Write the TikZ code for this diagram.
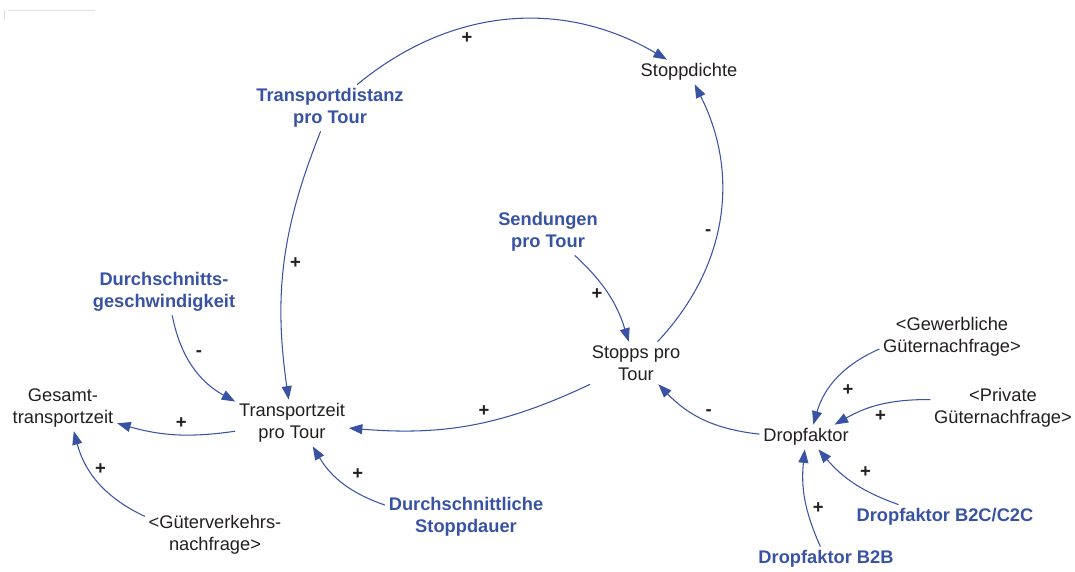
\documentclass[tikz,border=0pt]{standalone}
\usepackage{fontspec}
\setmainfont{Liberation Sans}
\usetikzlibrary{arrows.meta}
\definecolor{linkblue}{RGB}{57,83,164}
\definecolor{ink}{RGB}{35,31,32}

\begin{document}
\begin{tikzpicture}[font=\fontsize{10.4}{12.5}\selectfont,
			var/.style={text=ink, align=center, inner sep=2pt},
			given/.style={var, text=linkblue, font=\fontsize{10.4}{12.5}\selectfont\bfseries},
			link/.style={draw=linkblue, line width=0.6pt, -{Triangle[length=2.7mm, width=2mm, fill=linkblue]}},
			sign/.style={font=\fontsize{10.5}{12}\selectfont\bfseries, text=ink, inner sep=3pt}]
			\useasboundingbox (0,0) rectangle (21.5,-11.44);
			\draw[gray!25, line width=0.5pt] (0.16,-0.2) -- (1.9,-0.2) (0.08,-0.2) -- (0.08,-0.4);
			% Größen
			\node[var] (SD) at (13.78,-1.44) {Stoppdichte};
			\node[given] (TD) at (6.60,-2.16) {Transportdistanz\\pro Tour};
			\node[given] (SP) at (10.96,-4.64) {Sendungen\\pro Tour};
			\node[given] (DG) at (3.28,-5.84) {Durchschnitts-\\geschwindigkeit};
			\node[var] (ST) at (12.72,-7.26) {Stopps pro\\Tour};
			\node[var] (GW) at (19.04,-6.74) {<Gewerbliche\\Güternachfrage>};
			\node[var] (GT) at (1.26,-8.16) {Gesamt-\\transportzeit};
			\node[var] (TZ) at (5.84,-8.46) {Transportzeit\\pro Tour};
			\node[var] (PG) at (20.06,-8.16) {<Private\\Güternachfrage>};
			\node[var] (DF) at (16.12,-8.74) {Dropfaktor};
			\node[given] (DS) at (9.32,-10.34) {Durchschnittliche\\Stoppdauer};
			\node[var] (GV) at (4.30,-10.70) {<Güterverkehrs-\\nachfrage>};
			\node[given] (BC) at (18.90,-10.34) {Dropfaktor B2C/C2C};
			\node[given] (BB) at (16.52,-11.18) {Dropfaktor B2B};
			% Wirkungen mit Polarität
			\foreach \a/\b/\bd/\sg/\ps/\an in {TD/SD/35/+/0.37/north, TD/TZ/-15/+/0.5/west,
				ST/SD/-35/-/0.45/east, SP/ST/15/+/0.5/east, DG/TZ/-25/-/0.45/south west,
				ST/TZ/15/+/0.45/south, TZ/GT/12/+/0.45/south, GV/GT/25/+/0.65/west,
				DS/TZ/20/+/0.45/south west, DF/ST/20/-/0.45/south, GW/DF/-25/+/0.5/north west,
				PG/DF/-15/+/0.5/north, BC/DF/15/+/0.5/south west, BB/DF/15/+/0.4/west}{
				\draw[link] (\a) to[bend left=\bd] node[sign, pos=\ps, anchor=\an] {\sg} (\b);
			}
		\end{tikzpicture}
\end{document}
